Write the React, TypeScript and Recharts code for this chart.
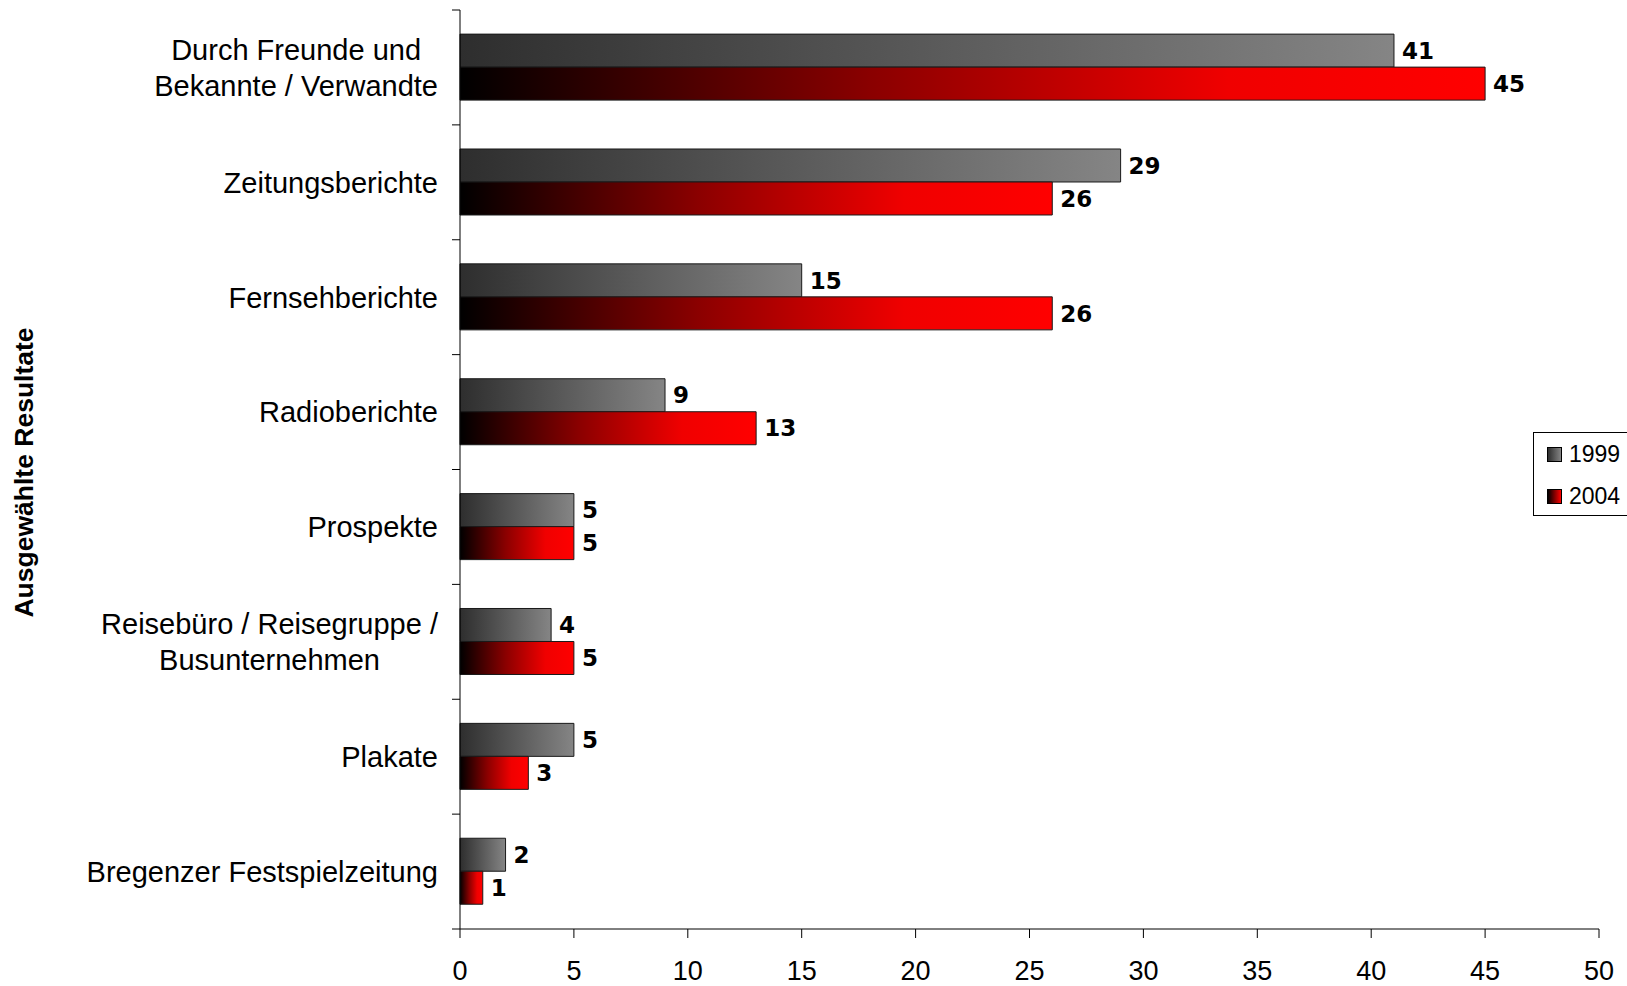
import React from "react";
import {
  BarChart,
  Bar,
  XAxis,
  YAxis,
  Legend,
  LabelList,
} from "recharts";

const categories = [
  "Durch Freunde und\nBekannte / Verwandte",
  "Zeitungsberichte",
  "Fernsehberichte",
  "Radioberichte",
  "Prospekte",
  "Reisebüro / Reisegruppe /\nBusunternehmen",
  "Plakate",
  "Bregenzer Festspielzeitung",
];
const values1999 = [41, 29, 15, 9, 5, 4, 5, 2];
const values2004 = [45, 26, 26, 13, 5, 5, 3, 1];
const seriesNames = ["1999", "2004"];
const xTicks = [0, 5, 10, 15, 20, 25, 30, 35, 40, 45, 50];
const axisTitle = "Ausgewählte Resultate";

const data = categories.map((name, i) => ({
  name,
  y1999: values1999[i],
  y2004: values2004[i],
}));

const W = 1627;
const H = 986;
const MARGIN = { top: 10, right: 28, left: 0, bottom: 0 };
const Y_AXIS_W = 460;
const X_AXIS_H = 57;
const TICK_SIZE = 8;
const TICK_MARGIN = 14;
const BAND = (H - MARGIN.top - MARGIN.bottom - X_AXIS_H) / categories.length;

const SANS = "'Liberation Sans', Arial, sans-serif";
const CAT_FONT = 29;
const LINE_H = 36;

let ctx: CanvasRenderingContext2D | null = null;
function textWidth(s: string) {
  if (!ctx) ctx = document.createElement("canvas").getContext("2d");
  if (!ctx) return s.length * CAT_FONT * 0.5;
  ctx.font = `${CAT_FONT}px 'Liberation Sans', Arial, sans-serif`;
  return ctx.measureText(s).width;
}

function CategoryTick(props: any) {
  const { x, y, payload, index } = props;
  const lines = String(payload.value).split("\n");
  const maxW = Math.max(...lines.map(textWidth));
  const cx = x - maxW / 2;
  const axisX = x + TICK_SIZE + TICK_MARGIN;
  return (
    <g>
      <line x1={axisX - TICK_SIZE} x2={axisX} y1={y - BAND / 2} y2={y - BAND / 2} stroke="#000" />
      {index === categories.length - 1 && (
        <line x1={axisX - TICK_SIZE} x2={axisX} y1={y + BAND / 2} y2={y + BAND / 2} stroke="#000" />
      )}
      {lines.map((l, i) => (
        <text
          key={i}
          x={cx}
          y={y + (i - (lines.length - 1) / 2) * LINE_H + CAT_FONT * 0.358}
          textAnchor="middle"
          fill="#000"
          fontFamily={SANS}
          fontSize={CAT_FONT}
        >
          {l}
        </text>
      ))}
    </g>
  );
}

function AxisTitle(props: any) {
  const vb = props.viewBox || { x: 0, y: MARGIN.top, width: Y_AXIS_W, height: BAND * 8 };
  const cx = 24;
  const cy = vb.y + vb.height / 2 + 3;
  return (
    <text
      x={cx}
      y={cy}
      transform={`rotate(-90 ${cx} ${cy})`}
      textAnchor="middle"
      dominantBaseline="central"
      fontFamily={SANS}
      fontWeight="bold"
      fontSize={26.5}
      fill="#000"
    >
      {axisTitle}
    </text>
  );
}

const swatches = [
  "linear-gradient(to right, #2e2e2e, #858585)",
  "linear-gradient(to right, #000000, #ff0000)",
];

function LegendBox() {
  return (
    <div
      style={{
        position: "relative",
        width: 120,
        height: 84,
        boxSizing: "border-box",
        border: "1px solid #000",
        background: "#fff",
        fontFamily: SANS,
        fontSize: 23,
        color: "#000",
      }}
    >
      {seriesNames.map((n, i) => (
        <div
          key={n}
          style={{
            position: "absolute",
            left: 13,
            top: 9 + i * 42,
            height: 24,
            display: "flex",
            alignItems: "center",
          }}
        >
          <span
            style={{
              display: "inline-block",
              width: 15,
              height: 15,
              boxSizing: "border-box",
              border: "1px solid #000",
              background: swatches[i],
              marginRight: 7,
            }}
          />
          {n}
        </div>
      ))}
    </div>
  );
}

const labelStyle = {
  fontFamily: "'DejaVu Sans', Verdana, sans-serif",
  fontWeight: "bold",
  fontSize: 23,
  fill: "#000",
};

export default function App() {
  return (
    <div style={{ position: "absolute", left: 0, top: 0, width: W, height: H, overflow: "hidden", background: "#fff" }}>
      <BarChart
        width={W}
        height={H}
        data={data}
        layout="vertical"
        margin={MARGIN}
        barGap={0}
        barCategoryGap="21%"
      >
        <defs>
          <linearGradient id="grayGrad" x1="0" y1="0" x2="1" y2="0">
            <stop offset="0%" stopColor="#2e2e2e" />
            <stop offset="100%" stopColor="#858585" />
          </linearGradient>
          <linearGradient id="redGrad" x1="0" y1="0" x2="1" y2="0">
            <stop offset="0%" stopColor="#000000" />
            <stop offset="40%" stopColor="#8a0000" />
            <stop offset="75%" stopColor="#f00000" />
            <stop offset="100%" stopColor="#ff0000" />
          </linearGradient>
        </defs>

        <XAxis
          type="number"
          domain={[0, 50]}
          ticks={xTicks}
          height={X_AXIS_H}
          tickSize={9}
          tickMargin={23}
          axisLine={{ stroke: "#000" }}
          tickLine={{ stroke: "#000" }}
          tick={{ fontSize: 27, fill: "#000", fontFamily: SANS }}
          interval={0}
        />
        <YAxis
          type="category"
          dataKey="name"
          width={Y_AXIS_W}
          tickSize={TICK_SIZE}
          tickMargin={TICK_MARGIN}
          tickLine={false}
          axisLine={{ stroke: "#000" }}
          tick={<CategoryTick />}
          interval={0}
          label={<AxisTitle />}
        />

        <Legend
          layout="horizontal"
          verticalAlign="middle"
          align="center"
          content={() => <LegendBox />}
          wrapperStyle={{ left: 1533, top: 432, width: 120, height: 84 }}
        />

        <Bar dataKey="y1999" name={seriesNames[0]} fill="url(#grayGrad)" stroke="#1a1a1a" strokeWidth={1} isAnimationActive={false}>
          <LabelList dataKey="y1999" position="right" offset={8} style={labelStyle} />
        </Bar>
        <Bar dataKey="y2004" name={seriesNames[1]} fill="url(#redGrad)" stroke="#1a1a1a" strokeWidth={1} isAnimationActive={false}>
          <LabelList dataKey="y2004" position="right" offset={8} style={labelStyle} />
        </Bar>
      </BarChart>
    </div>
  );
}
